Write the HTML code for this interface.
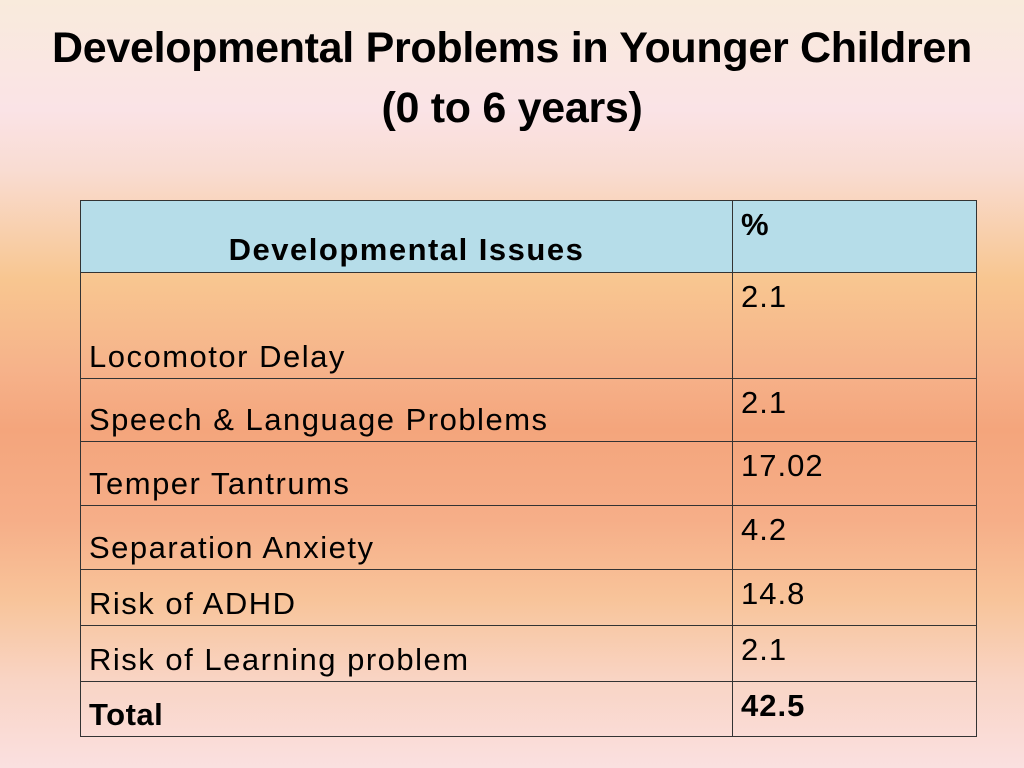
<!DOCTYPE html>
<html><head><meta charset="utf-8"><style>
html,body{margin:0;padding:0}
body{width:1024px;height:768px;position:relative;overflow:hidden;font-family:"Liberation Sans",sans-serif;
background:linear-gradient(to bottom,#f9ebdc 0px,#fae3e6 110px,#f9dcd2 170px,#f8c690 280px,#f6b28a 370px,#f4a57c 430px,#f6ae88 520px,#f8c49a 600px,#f9d4c4 680px,#fae0e0 768px);}
h1{position:absolute;left:0;top:18px;width:1024px;margin:0;text-align:center;font-weight:bold;font-size:43px;line-height:60px;color:#000;letter-spacing:-0.3px;}
table{position:absolute;left:80px;top:200px;width:897px;border-collapse:collapse;}
td{border:1.5px solid #333;font-size:31px;letter-spacing:1.5px;color:#000;padding:0 8px;box-sizing:border-box}
td.l{vertical-align:bottom;padding-bottom:3px;width:652px}
td.v{vertical-align:top;padding-top:6px;letter-spacing:1px}
tr.h td{background:#b6dde9}
</style></head><body>
<h1>Developmental Problems in Younger Children<br>(0 to 6 years)</h1>
<table>
<tr class="h" style="height:72px"><td class="l" style="text-align:center;font-weight:bold;padding-bottom:4px;padding-right:0;padding-left:0">Developmental Issues</td><td class="v" style="font-weight:bold">%</td></tr>
<tr style="height:106px"><td class="l">Locomotor Delay</td><td class="v">2.1</td></tr>
<tr style="height:63px"><td class="l">Speech &amp; Language Problems</td><td class="v">2.1</td></tr>
<tr style="height:64px"><td class="l">Temper Tantrums</td><td class="v">17.02</td></tr>
<tr style="height:64px"><td class="l">Separation Anxiety</td><td class="v">4.2</td></tr>
<tr style="height:56px"><td class="l">Risk of ADHD</td><td class="v">14.8</td></tr>
<tr style="height:56px"><td class="l">Risk of Learning problem</td><td class="v">2.1</td></tr>
<tr style="height:55px"><td class="l" style="font-weight:bold;letter-spacing:0.5px">Total</td><td class="v" style="font-weight:bold">42.5</td></tr>
</table>
</body></html>
